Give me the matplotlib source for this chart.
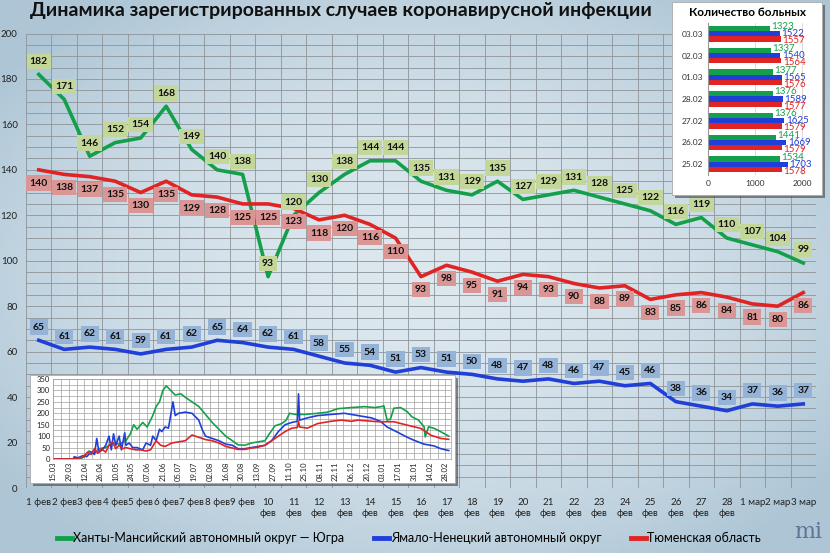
import numpy as np
import matplotlib.pyplot as plt
from matplotlib.patches import Rectangle
from matplotlib.lines import Line2D
from matplotlib.colors import LinearSegmentedColormap

plt.rcParams['font.family'] = ['Lato', 'DejaVu Sans']

# main chart: daily new cases, 1 Feb - 3 Mar
dates = ['1 фев', '2 фев', '3 фев', '4 фев', '5 фев', '6 фев', '7 фев', '8 фев', '9 фев',
         '10\nфев', '11\nфев', '12\nфев', '13\nфев', '14\nфев', '15\nфев', '16\nфев', '17\nфев',
         '18\nфев', '19\nфев', '20\nфев', '21\nфев', '22\nфев', '23\nфев', '24\nфев', '25\nфев',
         '26\nфев', '27\nфев', '28\nфев', '1 мар', '2 мар', '3 мар']
hmao = [182, 171, 146, 152, 154, 168, 149, 140, 138, 93, 120, 130, 138, 144, 144, 135,
        131, 129, 135, 127, 129, 131, 128, 125, 122, 116, 119, 110, 107, 104, 99]
yanao = [65, 61, 62, 61, 59, 61, 62, 65, 64, 62, 61, 58, 55, 54, 51, 53,
         51, 50, 48, 47, 48, 46, 47, 45, 46, 38, 36, 34, 37, 36, 37]
tyumen = [140, 138, 137, 135, 130, 135, 129, 128, 125, 125, 123, 118, 120, 116, 110, 93,
          98, 95, 91, 94, 93, 90, 88, 89, 83, 85, 86, 84, 81, 80, 86]

# bar inset: number of patients
bar_dates = ['25.02', '26.02', '27.02', '28.02', '01.03', '02.03', '03.03']
bar_hmao = [1534, 1441, 1376, 1376, 1377, 1337, 1323]
bar_yanao = [1703, 1669, 1625, 1589, 1565, 1540, 1522]
bar_tyumen = [1578, 1579, 1579, 1577, 1576, 1564, 1557]

# line inset: whole epidemic, days since 15.03.2020
inset_ticks = ['15.03', '29.03', '12.04', '26.04', '10.05', '24.05', '07.06', '21.06', '05.07',
               '19.07', '02.08', '16.08', '30.08', '13.09', '27.09', '11.10', '25.10', '08.11',
               '22.11', '06.12', '20.12', '03.01', '17.01', '31.01', '14.02', '28.02']
days_g = [0, 24, 28, 32, 37, 41, 47, 53, 59, 65, 69, 72, 75, 80, 84, 89, 92, 95, 98, 101,
          105, 109, 114, 118, 124, 130, 136, 142, 148, 154, 160, 165, 171, 177, 183, 189, 193, 198, 204, 208,
          211, 216, 225, 236, 245, 254, 266, 278, 287, 294, 295, 298, 301, 304, 310, 316, 320, 326, 331, 332,
          335, 340, 346, 353]
vals_g = [0, 0, 10, 35, 25, 45, 50, 70, 65, 80, 110, 150, 130, 160, 140, 190, 230, 250, 300, 320,
          300, 280, 285, 270, 250, 230, 195, 160, 130, 100, 80, 62, 60, 70, 75, 80, 110, 145, 155, 170,
          200, 195, 195, 200, 205, 220, 225, 229, 225, 230, 234, 170, 175, 222, 225, 207, 185, 170, 141, 97,
          141, 134, 119, 100]
days_b = [0, 18, 19, 22, 27, 30, 34, 37, 39, 41, 44, 47, 50, 52, 54, 56, 59, 61, 64, 65,
          68, 71, 75, 80, 83, 87, 89, 92, 95, 97, 100, 103, 107, 109, 112, 118, 124, 130, 133, 136,
          142, 148, 154, 160, 165, 171, 177, 183, 189, 195, 201, 207, 213, 218, 219, 220, 227, 236, 248, 260,
          272, 284, 292, 298, 307, 316, 322, 331, 340, 346, 353]
vals_b = [0, 0, 10, 5, 15, 10, 30, 20, 90, 30, 40, 60, 100, 40, 110, 60, 100, 40, 115, 60,
          70, 50, 50, 40, 70, 60, 100, 80, 130, 120, 140, 135, 250, 190, 200, 205, 200, 170, 130, 100,
          90, 80, 65, 60, 45, 45, 50, 55, 60, 80, 120, 150, 160, 165, 285, 170, 180, 190, 195, 200,
          190, 180, 165, 140, 118, 95, 82, 65, 57, 45, 37]
days_r = [0, 21, 27, 31, 34, 37, 40, 43, 47, 50, 53, 56, 59, 62, 65, 69, 74, 78, 83, 87,
          92, 96, 100, 106, 112, 118, 124, 130, 136, 142, 148, 154, 160, 165, 171, 177, 183, 189, 195, 201,
          207, 213, 218, 219, 220, 227, 236, 248, 257, 266, 272, 290, 304, 316, 328, 337, 346, 353]
vals_r = [0, 0, 10, 30, 20, 45, 25, 45, 30, 60, 75, 45, 60, 45, 50, 45, 40, 40, 35, 40,
          80, 60, 55, 70, 75, 80, 105, 95, 85, 80, 70, 55, 48, 42, 42, 48, 52, 60, 80, 100,
          120, 135, 138, 165, 140, 135, 155, 165, 170, 165, 170, 163, 163, 148, 134, 104, 90, 86]

GREEN = '#14a04a'
BLUE = '#1f3fd8'
RED = '#e02424'
GRID = '#8e9499'

W, H = 830, 553
fig = plt.figure(figsize=(W / 100, H / 100), dpi=100)


def fx(px):
    return px / W


def fy(py):
    return 1 - py / H


# soft bluish background, lighter in the middle
bg = fig.add_axes([0, 0, 1, 1], zorder=-10)
yy, xx = np.mgrid[0:1:120j, 0:1:180j]
shade = 1 - 1.4 * ((xx - 0.5) ** 2 + (yy - 0.5) ** 2)
bg_cmap = LinearSegmentedColormap.from_list('bg', ['#adc5d5', '#dce7ee'])
bg.imshow(shade, cmap=bg_cmap, vmin=0.45, vmax=1, aspect='auto', extent=[0, 1, 0, 1])
bg.axis('off')

fig.text(fx(30), fy(2), 'Динамика зарегистрированных случаев коронавирусной инфекции',
         fontsize=14, fontweight='bold', va='top', ha='left', color='#111111')

# ---- main chart ----
ax = fig.add_axes([fx(26), fy(488), fx(790), (488 - 33.5) / H])
ax.set_facecolor('none')
x = np.arange(len(dates))
ax.set_xlim(-0.5, len(dates) - 0.5)
ax.set_ylim(0, 200)
ax.set_yticks(range(0, 201, 20))
ax.set_yticks(range(0, 201, 5), minor=True)
ax.set_xticks(x)
ax.set_xticks(np.arange(-0.5, len(dates)), minor=True)
ax.set_xticklabels(dates, fontsize=7, linespacing=1.35)
ax.tick_params(axis='both', which='both', length=0, labelsize=7, colors='#222222')
ax.tick_params(axis='x', pad=7)
ax.tick_params(axis='y', pad=6)
ax.grid(which='minor', color=GRID, lw=0.6)
ax.grid(which='major', axis='y', color=GRID, lw=0.6)
for s in ax.spines.values():
    s.set_visible(False)

series = [(hmao, GREEN, '#c4d79b', 9.5, 'Ханты-Мансийский автономный округ — Югра'),
          (yanao, BLUE, '#95b3d7', 9.5, 'Ямало-Ненецкий автономный округ'),
          (tyumen, RED, '#da9694', -9.5, 'Тюменская область')]
handles = []
for vals, col, lab_bg, dy, name in series:
    ax.plot(x, vals, color=col, lw=2.6, solid_joinstyle='round', zorder=3)
    handles.append(Line2D([], [], color=col, lw=3.5, label=name))
    for i, v in enumerate(vals):
        ax.annotate(str(v), (i, v), xytext=(0, dy), textcoords='offset points',
                    ha='center', va='center', fontsize=7.5, fontweight='bold', color='#111111',
                    bbox=dict(boxstyle='square,pad=0.3', fc=lab_bg, ec='none'), zorder=4)

fig.legend(handles=handles, loc='center', bbox_to_anchor=(fx(409), fy(538)), ncol=3, frameon=False,
           fontsize=9, handlelength=1.2, handletextpad=0.1, columnspacing=2.4)

# ---- line inset ----
fig.add_artist(Rectangle((fx(33), fy(486)), fx(425), 108 / H, transform=fig.transFigure,
                         fc='#555555', ec='none', alpha=0.7, zorder=5))
fig.add_artist(Rectangle((fx(30), fy(483)), fx(425), 108 / H, transform=fig.transFigure,
                         fc='white', ec='#aaaaaa', lw=0.6, zorder=5))
ins = fig.add_axes([fx(53), fy(459), fx(398), 80 / H], zorder=6)
ins.set_xlim(0, 355)
ins.set_ylim(0, 350)
ins.plot(days_g, vals_g, color=GREEN, lw=1.2)
ins.plot(days_b, vals_b, color=BLUE, lw=1.2)
ins.plot(days_r, vals_r, color=RED, lw=1.2)
ins.set_yticks(range(0, 351, 50))
ins.set_yticks(range(0, 351, 25), minor=True)
ins.set_xticks(range(0, 14 * len(inset_ticks), 14))
ins.set_xticks(range(0, 356, 7), minor=True)
ins.set_xticklabels(inset_ticks, rotation=90)
ins.tick_params(which='both', length=0, labelsize=5.5, colors='#222222', pad=2)
ins.grid(which='both', color='#a0a0a0', lw=0.5)
for s in ins.spines.values():
    s.set_color('#a0a0a0')
    s.set_linewidth(0.5)

# ---- bar inset ----
fig.add_artist(Rectangle((fx(675), fy(198)), fx(150), 193 / H, transform=fig.transFigure,
                         fc='#555555', ec='none', alpha=0.7, zorder=5))
fig.add_artist(Rectangle((fx(672), fy(195)), fx(150), 193 / H, transform=fig.transFigure,
                         fc='white', ec='#aaaaaa', lw=0.6, zorder=5))
fig.text(fx(747), fy(12), 'Количество больных', fontsize=8.5, fontweight='bold',
         ha='center', va='center', zorder=7)
bx = fig.add_axes([fx(708), fy(175), fx(109), 152 / H], zorder=6)
yb = np.arange(len(bar_dates))
bh = 0.24
for vals, col, off, dy in [(bar_hmao, GREEN, bh, 1.3), (bar_yanao, BLUE, 0, 0), (bar_tyumen, RED, -bh, -1.3)]:
    bx.barh(yb + off, vals, height=bh, color=col)
    for yi, v in zip(yb, vals):
        bx.annotate(str(v), (v, yi + off), xytext=(1, dy), textcoords='offset points',
                    ha='left', va='center', fontsize=7, color=col)
bx.set_xlim(0, 2320)
bx.set_ylim(-0.5, len(bar_dates) - 0.5)
bx.set_yticks(yb)
bx.set_yticklabels(bar_dates)
bx.set_xticks([0, 1000, 2000])
bx.tick_params(length=0, labelsize=6, colors='#333333')
bx.grid(axis='x', color='#cccccc', lw=0.5)
bx.set_axisbelow(True)
for s in bx.spines.values():
    s.set_visible(False)
bx.spines['left'].set_visible(True)
bx.spines['left'].set_color('#999999')

fig.text(fx(808), fy(532), 'mi', fontsize=16, family='DejaVu Serif', color='#4a5f86',
         ha='center', va='center', alpha=0.8)

fig.savefig('out.png', dpi=100)
